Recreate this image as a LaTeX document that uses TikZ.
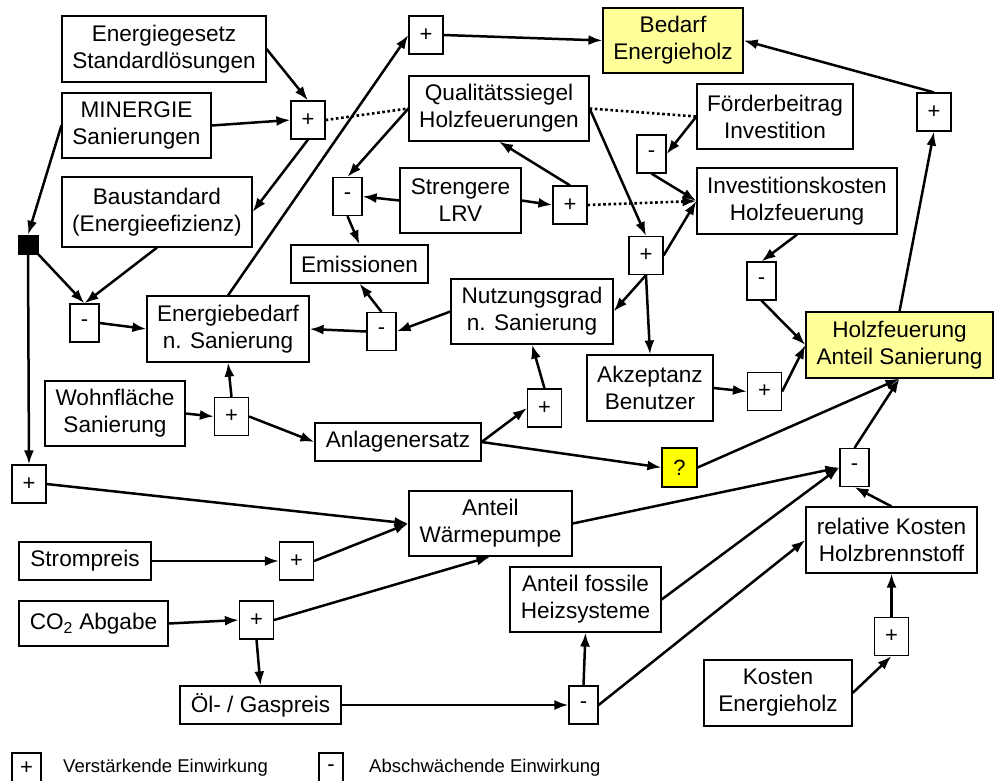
\documentclass[tikz,border=0pt]{standalone}
\usepackage{fontspec}
\setmainfont{Liberation Sans}
\usetikzlibrary{arrows.meta}
\definecolor{paleyellow}{HTML}{FFFF99}
\definecolor{brightyellow}{HTML}{FFFF00}
\tikzset{
  box/.style={draw, line width=1.2pt, inner sep=0pt, align=center,
    font=\fontsize{22.6}{27}\selectfont},
  sbox/.style={draw, line width=1.2pt, inner sep=0pt, minimum height=38,
    font=\fontsize{22}{24}\selectfont},
  plusbox/.style={sbox, minimum width=34},
  minusbox/.style={sbox, minimum width=29},
  arr/.style={line width=2.5pt, -{Latex[length=14pt,width=10pt]}},
  dots/.style={line width=2.6pt, dash pattern=on 2.6pt off 2.6pt},
  legtext/.style={anchor=west, inner sep=0pt, font=\fontsize{18.5}{20}\selectfont}
}
\begin{document}
\begin{tikzpicture}[x=1pt,y=-1pt]
\useasboundingbox (0,0) rectangle (995,780);
% main boxes
\node[box, minimum width=204, minimum height=66] (eg) at (164,49) {Energiegesetz\\Standardlösungen};
\node[box, minimum width=149, minimum height=65] (min) at (136.5,125.5) {MINERGIE\\Sanierungen};
\node[box, minimum width=190, minimum height=70] (bau) at (157,212) {Baustandard\\(Energieefizienz)};
\node[draw, fill=black, inner sep=0pt, minimum width=20, minimum height=19] (sq) at (28,244.5) {};
\node[box, minimum width=180, minimum height=65] (q) at (499,108.5) {Qualitätssiegel\\Holzfeuerungen};
\node[box, minimum width=121, minimum height=65] (s) at (460.5,200.5) {Strengere\\LRV};
\node[box, fill=paleyellow, minimum width=140, minimum height=65] (bed) at (673,40.5) {Bedarf\\Energieholz};
\node[box, minimum width=156, minimum height=65] (f) at (775,116.5) {Förderbeitrag\\Investition};
\node[box, minimum width=200, minimum height=66] (inv) at (797,201) {Investitionskosten\\Holzfeuerung};
\node[box, minimum width=137, minimum height=38] (em) at (359.5,264) {Emissionen};
\node[box, minimum width=162, minimum height=65] (nu) at (532,311.5) {Nutzungsgrad\\n. Sanierung};
\node[box, minimum width=162, minimum height=66] (eb) at (228,329) {Energiebedarf\\n. Sanierung};
\node[box, minimum width=140, minimum height=65] (wo) at (115,413.5) {Wohnfläche\\Sanierung};
\node[box, minimum width=166, minimum height=38] (an) at (398,442) {Anlagenersatz};
\node[box, minimum width=126, minimum height=66] (ak) at (650,388) {Akzeptanz\\Benutzer};
\node[box, fill=paleyellow, minimum width=187, minimum height=66] (hf) at (899.5,345) {Holzfeuerung\\Anteil Sanierung};
\node[sbox, fill=brightyellow, minimum width=35, minimum height=39] (qq) at (679.5,467.5) {?};
\node[box, minimum width=163, minimum height=65] (wp) at (490.5,523.5) {Anteil\\Wärmepumpe};
\node[box, minimum width=171, minimum height=66] (rk) at (891.5,540) {relative Kosten\\Holzbrennstoff};
\node[box, minimum width=132, minimum height=38] (sp) at (85,561) {Strompreis};
\node[box, minimum width=149, minimum height=45] (co) at (93.5,623.5) {CO\textsubscript{2} Abgabe};
\node[box, minimum width=161, minimum height=38] (ol) at (260.5,705) {Öl- / Gaspreis};
\node[box, minimum width=151, minimum height=65] (af) at (585.5,599.5) {Anteil fossile\\Heizsysteme};
\node[box, minimum width=148, minimum height=66] (ke) at (778,693) {Kosten\\Energieholz};
% plus / minus boxes
\node[plusbox] (p1) at (308,120) {+};
\node[plusbox] (p2) at (426,35) {+};
\node[plusbox] (p3) at (570,205) {+};
\node[plusbox] (p4) at (934,112) {+};
\node[plusbox] (p5) at (646,255.5) {+};
\node[plusbox] (p6) at (231.5,416.5) {+};
\node[plusbox] (p7) at (29,484) {+};
\node[plusbox] (p8) at (544.5,408) {+};
\node[plusbox] (p9) at (764.5,391.5) {+};
\node[plusbox] (p10) at (296.5,561) {+};
\node[plusbox] (p11) at (256.5,620) {+};
\node[plusbox] (p12) at (891.5,636.5) {+};
\node[minusbox] (m1) at (347.5,196.5) {-};
\node[minusbox] (m2) at (651.5,154) {-};
\node[minusbox] (m3) at (381.5,331.5) {-};
\node[minusbox] (m4) at (84.5,323) {-};
\node[minusbox] (m5) at (761.5,281) {-};
\node[minusbox] (m6) at (854.5,467.5) {-};
\node[minusbox] (m7) at (583.5,705) {-};
% legend
\node[sbox, minimum width=29, minimum height=30] (lp) at (26.5,768) {+};
\node[legtext] (lpt) at (63,768) {Verstärkende Einwirkung};
\node[sbox, minimum width=24, minimum height=30] (lm) at (331,768) {-};
\node[legtext] (lmt) at (369,768) {Abschwächende Einwirkung};
% connectors
\draw[arr] (eg.east) -- (p1.north);
\draw[arr] (min.east) -- (p1.west);
\draw[arr] (p1.south) -- (bau.east);
\draw[arr] (min.west) -- (sq.north);
\draw[dots] (p1.east) -- (q.west);
\draw[arr] (q.west) -- (m1.north);
\draw[arr] (s.west) -- (m1.east);
\draw[arr] (m1.south) -- (em.north);
\draw[arr] (s.east) -- (p3.west);
\draw[arr] (p3.north) -- (q.south);
\draw[dots, -{Latex[length=14pt,width=10pt]}] (p3.east) -- (inv.west);
\draw[dots] (q.east) -- (f.west);
\draw[arr] (f.west) -- (m2.east);
\draw[arr] (m2.south) -- (inv.west);
\draw[arr] (q.east) -- (p5.north);
\draw[arr] (p5.east) -- (inv.west);
\draw[arr] (p5.south) -- (nu.east);
\draw[arr] (p5.south) -- (ak.north);
\draw[arr] (nu.west) -- (m3.east);
\draw[arr] (m3.west) -- (eb.east);
\draw[arr] (m3.north) -- (em.south);
\draw[arr] (m4.east) -- (eb.west);
\draw[arr] (sq.south east) -- (m4.north);
\draw[arr] (bau.south) -- (m4.north);
\draw[arr] (eb.north) -- (p2.west);
\draw[arr] (p2.east) -- (bed.west);
\draw[arr] (p4.north) -- (bed.east);
\draw[arr] (hf.north) -- (p4.south);
\draw[arr] (inv.south) -- (m5.north);
\draw[arr] (m5.south) -- (hf.west);
\draw[arr] (ak.east) -- (p9.west);
\draw[arr] (p9.east) -- (hf.west);
\draw[arr] (wo.east) -- (p6.west);
\draw[arr] (p6.north) -- (eb.south);
\draw[arr] (p6.east) -- (an.west);
\draw[arr] (an.east) -- (p8.west);
\draw[arr] (p8.north) -- (nu.south);
\draw[arr] (an.east) -- (qq.west);
\draw[arr] (qq.east) -- (hf.south);
\draw[arr] (m6.north) -- (hf.south);
\draw[arr] (wp.east) -- (m6.west);
\draw[arr] (af.east) -- (m6.west);
\draw[arr] (rk.north) -- (m6.south);
\draw[arr] (p7.east) -- (wp.west);
\draw[arr] (sq.south) -- (p7.north);
\draw[arr] (sp.east) -- (p10.west);
\draw[arr] (p10.east) -- (wp.west);
\draw[arr] (co.east) -- (p11.west);
\draw[arr] (p11.east) -- (wp.south);
\draw[arr] (p11.south) -- (ol.north);
\draw[arr] (ol.east) -- (m7.west);
\draw[arr] (m7.north) -- (af.south);
\draw[arr] (m7.east) -- (rk.west);
\draw[arr] (ke.east) -- (p12.south);
\draw[arr] (p12.north) -- (rk.south);
\end{tikzpicture}
\end{document}
